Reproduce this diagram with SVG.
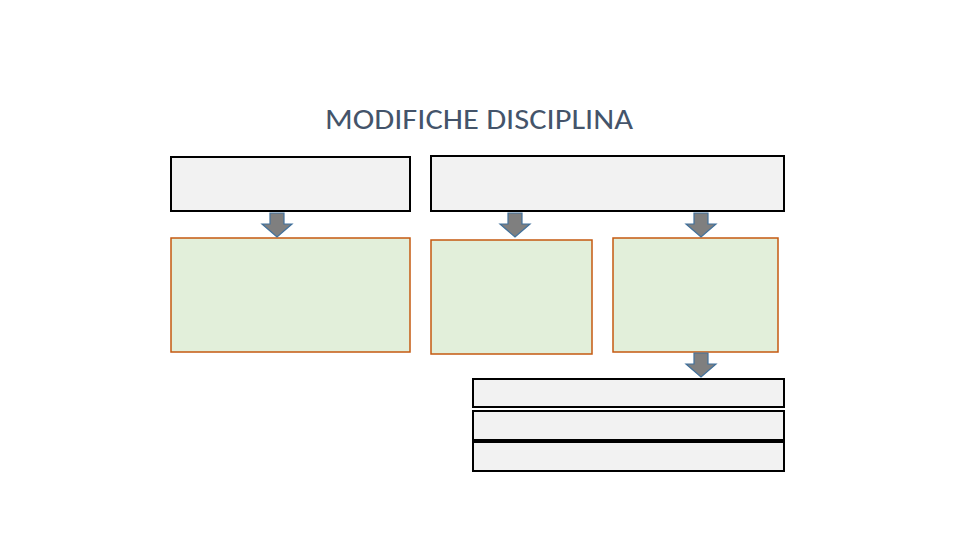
<svg xmlns="http://www.w3.org/2000/svg" width="960" height="540" viewBox="0 0 960 540">
<style>
.g{fill:#f2f2f2;stroke:#000;stroke-width:2}
.n{fill:#e2efda;stroke:#c55a11;stroke-width:1.5}
.a{fill:#7f7f7f;stroke:#41719c;stroke-width:1.2}
</style>
<defs><path id="arr" class="a" d="M-7,0 H7 V11 H15 L0,24 L-15,11 H-7 Z"/></defs>
<rect width="960" height="540" fill="#fff"/>
<text x="479" y="129" text-anchor="middle" textLength="308" lengthAdjust="spacingAndGlyphs" font-family="Carlito, 'Liberation Sans', sans-serif" font-size="29" fill="#44546a">MODIFICHE DISCIPLINA</text>
<g id="top1"><rect class="g" x="171" y="157" width="239" height="54"/></g>
<g id="top2"><rect class="g" x="431" y="156" width="353" height="55"/></g>
<g id="green1"><rect class="n" x="171" y="238" width="239" height="114"/></g>
<g id="green2"><rect class="n" x="431" y="240" width="161" height="114"/></g>
<g id="green3"><rect class="n" x="613" y="238" width="165" height="114"/></g>
<g id="bottom1"><rect class="g" x="473" y="379" width="311" height="28"/></g>
<g id="bottom2"><rect class="g" x="473" y="411" width="311" height="29"/></g>
<g id="bottom3"><rect class="g" x="473" y="442" width="311" height="29"/></g>
<g id="connectors">
<use href="#arr" x="277" y="213"/>
<use href="#arr" x="515" y="213"/>
<use href="#arr" x="701" y="213"/>
<use href="#arr" x="701" y="353"/>
</g>
</svg>
